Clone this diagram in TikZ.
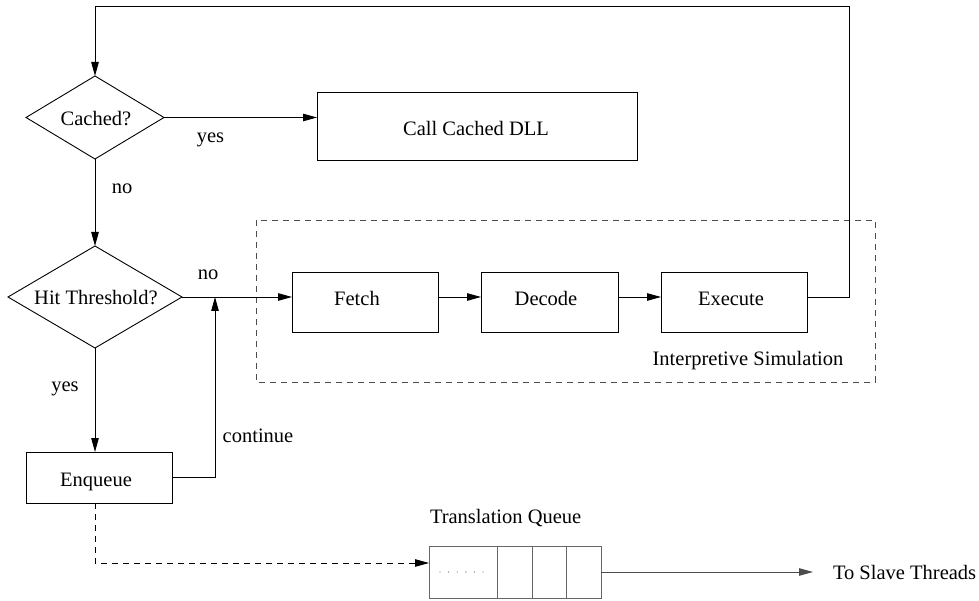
\documentclass[tikz,border=0pt]{standalone}
\usepackage{fontspec}
\setmainfont{Liberation Serif}
\usetikzlibrary{arrows.meta,shapes.geometric,calc}
\begin{document}
\begin{tikzpicture}[x=1pt,y=-1pt,
  font=\fontsize{20.5}{24}\selectfont,
  line width=0.9pt,
  every node/.style={inner sep=0pt,outer sep=0pt},
  decision/.style={draw,shape=diamond,minimum width=#1},
  procbox/.style={draw,rectangle},
  flow/.style={-{Triangle[length=14pt,width=7.5pt]}},
  dashline/.style={dash pattern=on 6pt off 5pt},
  lbl/.style={anchor=base}]
\useasboundingbox (0,0) rectangle (979,601);

% decisions
\node[decision=138pt,minimum height=83pt] (cached) at (95,117.5) {};
\node[lbl] at (96,126) {Cached?};
\node[decision=174pt,minimum height=102pt] (hit) at (95,297) {};
\node[lbl] at (96,305) {Hit Threshold?};

% process boxes
\node[procbox,minimum width=320pt,minimum height=68pt] (call) at (477,126) {};
\node[lbl] at (476,136) {Call Cached DLL};
\node[procbox,minimum width=146pt,minimum height=60pt] (fetch) at (365,302) {};
\node[lbl] at (357,306) {Fetch};
\node[procbox,minimum width=137pt,minimum height=60pt] (decode) at (549.5,302) {};
\node[lbl] at (546,306) {Decode};
\node[procbox,minimum width=146pt,minimum height=60pt] (exec) at (734,302) {};
\node[lbl] at (731,306) {Execute};
\node[procbox,minimum width=146pt,minimum height=51pt] (enq) at (99,477.5) {};
\node[lbl] at (96,486) {Enqueue};

% interpretive simulation frame
\draw[dashline,black!70] (256,220) rectangle (875,382);
\node[lbl] (sim) at (748,365) {Interpretive Simulation};

% translation queue
\node[procbox,black!60,minimum width=172pt,minimum height=52pt] (queue) at (515,572) {};
\foreach \x in {497,532,566}
  \draw[black!60] (\x,546) -- (\x,598);
\foreach \i in {0,...,5}
  \fill[black!50] (440+\i*8.6,572) circle (0.7pt);
\node[lbl,anchor=base west] (tqlbl) at (430,523) {Translation Queue};
\node[anchor=base west] (slave) at (833,579) {To Slave Threads};
\coordinate (slaveend) at (813,572);

% loop-back corners
\coordinate (topright) at (849,6);
\coordinate (topleft) at (95,6);
\coordinate (contx) at (215,297);
\coordinate (dashcorner) at (95,563);

% connectors
\draw[flow] (cached.east) -- (cached.east -| call.west);
\node[lbl] at (210.5,143) {yes};
\draw[flow] (cached.south) -- (hit.north);
\node[lbl] at (122,194) {no};
\draw[flow] (hit.east) -- (hit.east -| fetch.west);
\node[lbl] at (208,280) {no};
\draw[flow] (fetch.east |- hit.east) -- (hit.east -| decode.west);
\draw[flow] (decode.east |- hit.east) -- (hit.east -| exec.west);
\draw[flow] (exec.east |- hit.east) -- (topright |- hit.east) -- (topright) -- (topleft) -- (cached.north);
\draw[flow] (hit.south) -- (hit.south |- enq.north);
\node[lbl] at (65,391) {yes};
\draw[flow] (enq.east |- 0,477) -- (contx |- 0,477) -- (contx);
\node[lbl] at (258,442) {continue};
\draw[flow,dashline] (hit.south |- enq.south) -- (dashcorner) -- (dashcorner -| queue.west);
\draw[flow,black!70] (queue.east) -- (slaveend);
\end{tikzpicture}
\end{document}
